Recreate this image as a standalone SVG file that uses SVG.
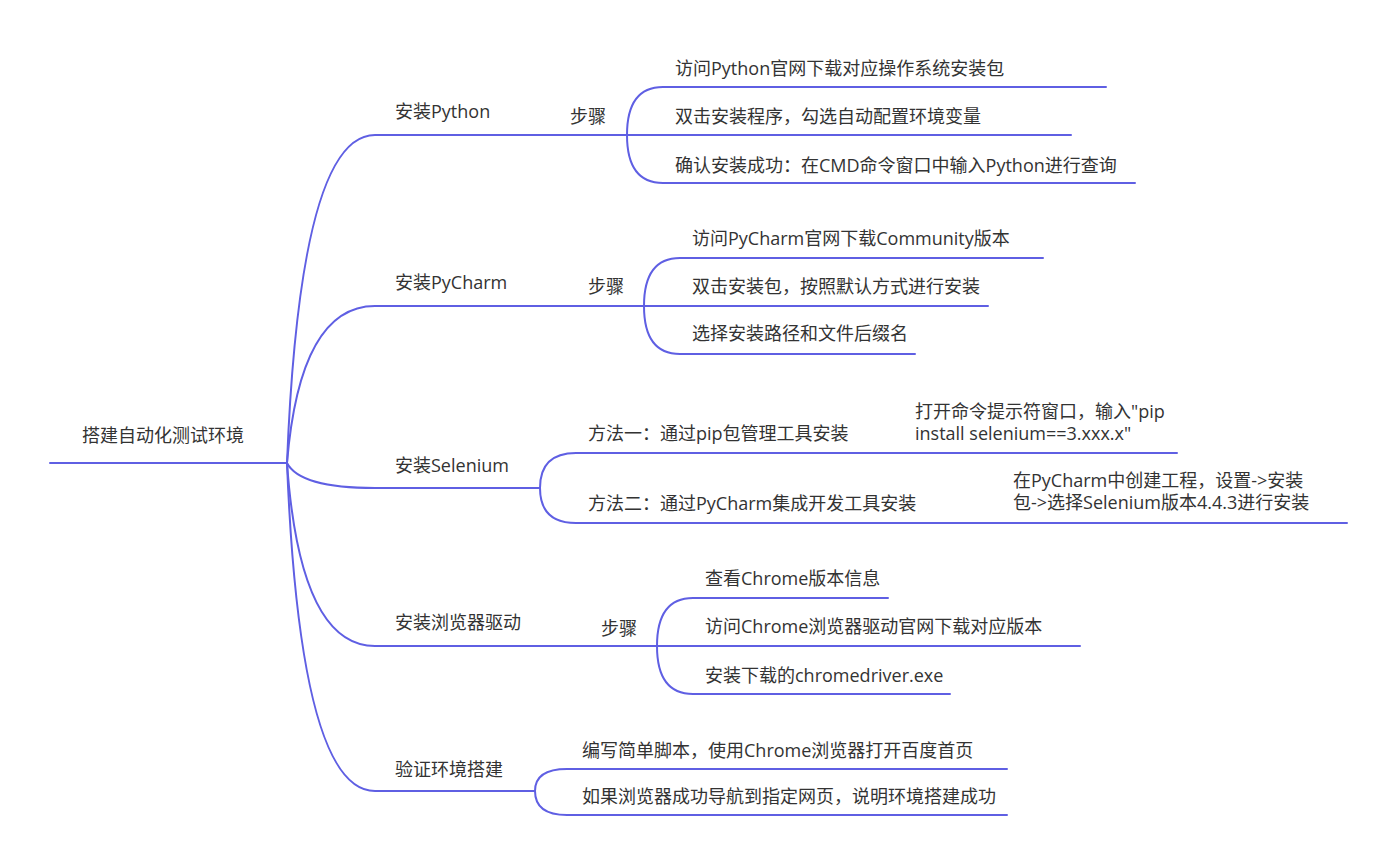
<svg xmlns="http://www.w3.org/2000/svg" width="1398" height="866" viewBox="0 0 1398 866">
<style>
.l{fill:none;stroke:#5f5fe3;stroke-width:2;stroke-linecap:round}
text{font-family:"Open Sans","Noto Sans CJK SC",sans-serif;font-size:18px;fill:#333333}
</style>
<rect width="1398" height="866" fill="#ffffff"/>
<g id="connectors">
<path class="l" d="M50,463 H287"/>
<path class="l" d="M287,463 Q300,135 375,135 H627"/>
<path class="l" d="M287,463 Q300,306 375,306 H644"/>
<path class="l" d="M287,463 Q300,488 375,488 H540"/>
<path class="l" d="M287,463 Q300,646 375,646 H657"/>
<path class="l" d="M287,463 Q300,791 375,791 H535"/>
<path class="l" d="M627,135 Q627,87 663,87 H1106"/>
<path class="l" d="M627,135 H1071"/>
<path class="l" d="M627,135 Q627,183 663,183 H1135"/>
<path class="l" d="M644,306 Q644,258 680,258 H1043"/>
<path class="l" d="M644,306 H988"/>
<path class="l" d="M644,306 Q644,354 680,354 H915"/>
<path class="l" d="M540,488 Q540,453 576,453 H1177"/>
<path class="l" d="M540,488 Q540,523 576,523 H1347"/>
<path class="l" d="M657,646 Q657,598 693,598 H888"/>
<path class="l" d="M657,646 H1080"/>
<path class="l" d="M657,646 Q657,694 693,694 H950"/>
<path class="l" d="M535,791 Q535,769 567,769 H1007"/>
<path class="l" d="M535,791 Q535,815 567,815 H1007"/>
</g>
<g id="root"><text x="82" y="442">搭建自动化测试环境</text></g>
<g id="n-python"><text x="395" y="118">安装Python</text></g>
<g id="n-python-steps"><text x="570" y="122.5">步骤</text></g>
<g id="n-python-1"><text x="675" y="75">访问Python官网下载对应操作系统安装包</text></g>
<g id="n-python-2"><text x="675" y="123">双击安装程序，勾选自动配置环境变量</text></g>
<g id="n-python-3"><text x="675" y="171.5">确认安装成功：在CMD命令窗口中输入Python进行查询</text></g>
<g id="n-pycharm"><text x="395" y="289">安装PyCharm</text></g>
<g id="n-pycharm-steps"><text x="588" y="293">步骤</text></g>
<g id="n-pycharm-1"><text x="692" y="245">访问PyCharm官网下载Community版本</text></g>
<g id="n-pycharm-2"><text x="692" y="293">双击安装包，按照默认方式进行安装</text></g>
<g id="n-pycharm-3"><text x="692" y="340">选择安装路径和文件后缀名</text></g>
<g id="n-selenium"><text x="395" y="471.5">安装Selenium</text></g>
<g id="n-selenium-m1"><text x="588" y="439.5">方法一：通过pip包管理工具安装</text></g>
<g id="n-selenium-m1-d"><text x="915" y="418">打开命令提示符窗口，输入"pip</text><text x="915" y="439.5">install selenium==3.xxx.x"</text></g>
<g id="n-selenium-m2"><text x="588" y="509.5">方法二：通过PyCharm集成开发工具安装</text></g>
<g id="n-selenium-m2-d"><text x="1013" y="487">在PyCharm中创建工程，设置-&gt;安装</text><text x="1013" y="508.5">包-&gt;选择Selenium版本4.4.3进行安装</text></g>
<g id="n-driver"><text x="395" y="629">安装浏览器驱动</text></g>
<g id="n-driver-steps"><text x="601" y="635">步骤</text></g>
<g id="n-driver-1"><text x="705" y="584.5">查看Chrome版本信息</text></g>
<g id="n-driver-2"><text x="705" y="633">访问Chrome浏览器驱动官网下载对应版本</text></g>
<g id="n-driver-3"><text x="705" y="681.5">安装下载的chromedriver.exe</text></g>
<g id="n-verify"><text x="395" y="775.5">验证环境搭建</text></g>
<g id="n-verify-1"><text x="582" y="756.5">编写简单脚本，使用Chrome浏览器打开百度首页</text></g>
<g id="n-verify-2"><text x="582" y="803">如果浏览器成功导航到指定网页，说明环境搭建成功</text></g>
</svg>
